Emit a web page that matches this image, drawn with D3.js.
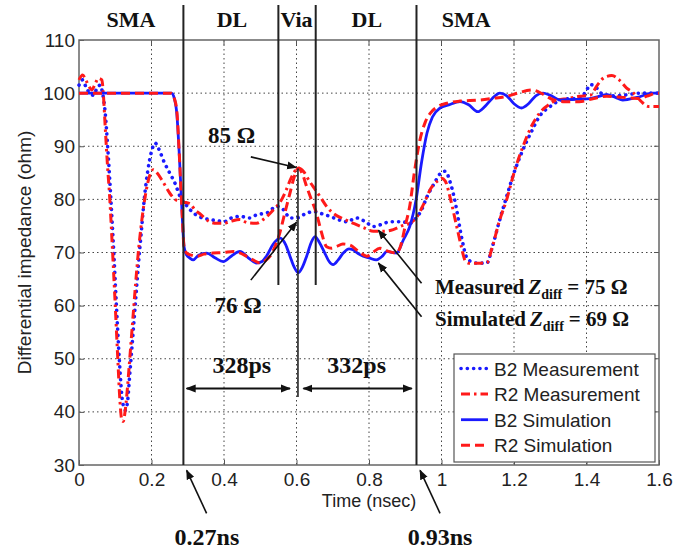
<!DOCTYPE html>
<html>
<head>
<meta charset="utf-8">
<script src="https://cdn.jsdelivr.net/npm/d3@7"></script>
<style>
  html, body { margin: 0; padding: 0; background: #fff; }
  svg { display: block; }
</style>
</head>
<body>
<div id="chart"></div>
<script>
// ---- data (time in ns, differential impedance in ohm) ----
const xTicks = [0, 0.2, 0.4, 0.6, 0.8, 1, 1.2, 1.4, 1.6];
const yTicks = [30, 40, 50, 60, 70, 80, 90, 100, 110];

const b2Measurement = [
    [0, 101.5], [0.01, 102.5], [0.02, 101], [0.03, 100], [0.04, 99.6], [0.05, 101], [0.058, 101.5],
    [0.065, 100], [0.072, 96.5], [0.08, 89], [0.088, 80], [0.096, 70], [0.104, 59], [0.112, 49],
    [0.12, 42], [0.128, 40.3], [0.134, 42], [0.14, 47], [0.147, 53], [0.155, 60], [0.163, 67],
    [0.172, 74], [0.18, 80], [0.19, 85.5], [0.2, 89], [0.21, 90.6], [0.22, 89.5], [0.235, 87],
    [0.25, 85], [0.265, 83], [0.279, 80.5], [0.295, 79], [0.31, 77.8], [0.33, 76.8], [0.36, 76.2],
    [0.38, 76], [0.4, 75.8], [0.42, 76.5], [0.444, 76.8], [0.47, 76.5], [0.49, 77.1], [0.52, 77.5],
    [0.545, 78.7], [0.565, 78], [0.582, 76.5], [0.6, 76.5], [0.625, 77.3], [0.646, 77.7], [0.67, 77.3],
    [0.692, 76.8], [0.715, 76.2], [0.738, 75.8], [0.766, 76.5], [0.79, 75.8], [0.812, 74.9],
    [0.835, 75.3], [0.858, 75.8], [0.89, 75.8], [0.913, 75.5], [0.93, 76.5], [0.945, 78], [0.96, 80.5],
    [0.98, 83], [0.996, 84.8], [1.01, 85.3], [1.025, 83], [1.04, 78.7], [1.055, 73], [1.07, 69],
    [1.085, 68.2], [1.1, 68], [1.125, 68], [1.14, 71], [1.16, 76], [1.18, 80.6], [1.2, 85],
    [1.225, 89.4], [1.25, 93], [1.27, 95.6], [1.3, 97.5], [1.33, 98.7], [1.36, 99], [1.38, 99],
    [1.4, 100.5], [1.41, 101.6], [1.425, 101.2], [1.44, 100], [1.47, 99.5], [1.5, 99.6], [1.55, 100],
    [1.6, 100]
];

const r2Measurement = [
    [0, 102.5], [0.01, 103.4], [0.02, 102.3], [0.03, 101], [0.035, 100.6], [0.045, 101.8],
    [0.053, 102.8], [0.063, 102.5], [0.067, 100], [0.072, 94], [0.078, 87], [0.085, 80], [0.092, 71],
    [0.1, 60], [0.107, 50], [0.113, 42], [0.118, 38.5], [0.122, 38.2], [0.127, 40], [0.133, 44],
    [0.14, 50], [0.148, 57], [0.156, 64], [0.165, 71], [0.175, 77], [0.185, 81.5], [0.195, 84.5],
    [0.205, 85.6], [0.215, 85], [0.23, 83.5], [0.25, 81.2], [0.265, 80], [0.279, 79.6], [0.295, 79.4],
    [0.306, 79.2], [0.32, 78], [0.335, 77.2], [0.36, 75.8], [0.38, 75.5], [0.4, 75.5], [0.42, 75.9],
    [0.444, 76.2], [0.465, 75.6], [0.49, 75.5], [0.51, 76.3], [0.536, 78], [0.555, 79.5], [0.57, 81.5],
    [0.585, 84], [0.605, 85.9], [0.62, 85.2], [0.635, 83.5], [0.65, 82], [0.665, 80.5], [0.685, 78.5],
    [0.701, 77.4], [0.73, 76.3], [0.757, 75.5], [0.785, 74.7], [0.812, 74], [0.84, 74], [0.867, 74.3],
    [0.89, 75], [0.913, 75.5], [0.93, 76.5], [0.95, 79], [0.97, 82], [0.99, 83.5], [1.0, 84],
    [1.01, 83.5], [1.025, 80], [1.04, 75.5], [1.055, 71], [1.065, 68.5], [1.075, 68], [1.1, 68],
    [1.125, 68.1], [1.14, 71], [1.16, 76], [1.18, 80], [1.2, 85], [1.225, 90], [1.25, 94],
    [1.27, 96.2], [1.3, 98], [1.318, 98.7], [1.35, 99], [1.38, 99.4], [1.41, 99.6], [1.43, 101.5],
    [1.45, 103], [1.47, 103.3], [1.49, 102.5], [1.51, 101], [1.53, 100], [1.55, 98.5], [1.57, 97.5],
    [1.583, 97.5], [1.6, 97.5]
];

const b2Simulation = [
    [0, 100], [0.255, 100], [0.263, 99], [0.27, 96], [0.277, 88], [0.284, 78], [0.29, 71],
    [0.297, 69.5], [0.305, 69], [0.315, 68.6], [0.33, 69.5], [0.352, 69.9], [0.375, 69], [0.398, 68.3],
    [0.42, 69.3], [0.444, 70.2], [0.467, 69], [0.49, 68], [0.505, 68.3], [0.517, 69.3], [0.535, 71.5],
    [0.555, 72.7], [0.57, 71.5], [0.582, 69.3], [0.594, 67.2], [0.605, 66.2], [0.616, 67.2],
    [0.628, 69.3], [0.64, 71.8], [0.651, 73], [0.664, 71.8], [0.678, 69.9], [0.69, 68.3],
    [0.701, 67.7], [0.715, 68.6], [0.729, 69.9], [0.745, 70.7], [0.756, 70.5], [0.77, 69.8],
    [0.784, 69.3], [0.8, 69], [0.82, 68.6], [0.835, 69.2], [0.85, 70.2], [0.865, 70], [0.876, 69.9],
    [0.895, 72.4], [0.913, 75], [0.93, 80], [0.945, 87], [0.96, 92.5], [0.975, 95.5], [0.996, 97.2],
    [1.02, 97.8], [1.051, 98.4], [1.075, 97.8], [1.1, 96.5], [1.12, 97.5], [1.14, 99], [1.161, 100],
    [1.18, 99.5], [1.2, 98], [1.221, 97.2], [1.24, 98], [1.26, 99.5], [1.28, 100], [1.3, 99.6],
    [1.327, 98.7], [1.36, 98.8], [1.4, 98.9], [1.43, 99.3], [1.456, 99.7], [1.48, 99.2], [1.5, 98.7],
    [1.54, 99.2], [1.583, 100], [1.6, 100]
];

const r2Simulation = [
    [0, 100], [0.255, 100], [0.263, 99], [0.27, 96.5], [0.277, 88], [0.284, 78], [0.29, 71],
    [0.297, 69.9], [0.31, 69.5], [0.325, 69.3], [0.345, 69.7], [0.37, 69.9], [0.4, 70], [0.425, 70.2],
    [0.445, 69.9], [0.462, 69.3], [0.48, 68.6], [0.5, 68], [0.515, 68.5], [0.527, 69.3], [0.54, 71],
    [0.554, 73.7], [0.568, 77.5], [0.582, 81.2], [0.595, 84.5], [0.605, 85.9], [0.615, 85],
    [0.628, 82.4], [0.642, 79.8], [0.655, 77.4], [0.668, 74], [0.683, 71.1], [0.697, 70.8],
    [0.71, 71.1], [0.728, 71.6], [0.747, 71.4], [0.77, 70.3], [0.794, 69.3], [0.81, 70], [0.83, 70.8],
    [0.85, 70.3], [0.876, 69.9], [0.886, 71], [0.9, 75], [0.913, 79], [0.925, 85], [0.94, 91],
    [0.955, 94.5], [0.97, 96.3], [0.99, 97.5], [1.014, 98.1], [1.05, 98.5], [1.106, 98.7], [1.14, 99],
    [1.18, 99.4], [1.21, 100], [1.25, 100.6], [1.28, 99.8], [1.31, 98.7], [1.34, 98.4], [1.38, 98.4],
    [1.42, 99], [1.456, 99.4], [1.5, 99.2], [1.54, 99], [1.57, 99.5], [1.594, 100], [1.6, 100]
];

const seriesNames = ['B2 Measurement', 'R2 Measurement', 'B2 Simulation', 'R2 Simulation'];
const seriesValues = [b2Measurement, r2Measurement, b2Simulation, r2Simulation];

// section boundaries (ns) and labels
const sectionLabels = ['SMA', 'DL', 'Via', 'DL', 'SMA'];
const sectionLabelTimes = [0.143, 0.422, 0.6, 0.794, 1.068];
const boundaryTimes = [0.288, 0.931];
const viaTimes = [0.550, 0.653];

// ---- styles ----
const W = 693, H = 551;
const PLOT = { left: 79, right: 659, top: 40, bottom: 465 };
const SERIF = '"Liberation Serif", "Times New Roman", serif';
const SANS = '"Liberation Sans", Arial, sans-serif';
const STYLES = [
    { color: '#1a1aff', dash: '0.1,6.2', cap: 'round', width: 3.6 },
    { color: '#ff1a1a', dash: '9,4,2.5,4', cap: 'butt', width: 3 },
    { color: '#1a1aff', dash: null, cap: 'butt', width: 2.8 },
    { color: '#ff1a1a', dash: '9,5', cap: 'butt', width: 3 }
];

const svg = d3.select('#chart').append('svg')
    .attr('width', W).attr('height', H)
    .attr('viewBox', [0, 0, W, H]);

const x = d3.scaleLinear().domain([0, 1.6]).range([PLOT.left, PLOT.right]);
const y = d3.scaleLinear().domain([30, 110]).range([PLOT.bottom, PLOT.top]);

// grid
const grid = svg.append('g')
    .attr('stroke', '#444').attr('stroke-width', 1).attr('stroke-dasharray', '1.5,3');
grid.selectAll('line.gx')
    .data(xTicks.filter(d => d > 0 && d < 1.6))
    .join('line')
    .attr('x1', d => x(d)).attr('x2', d => x(d))
    .attr('y1', PLOT.top).attr('y2', PLOT.bottom);
grid.selectAll('line.gy')
    .data(yTicks.filter(d => d > 30 && d < 110))
    .join('line')
    .attr('x1', PLOT.left).attr('x2', PLOT.right)
    .attr('y1', d => y(d)).attr('y2', d => y(d));

// axes (ticks inside, as in MATLAB)
const xAxis = svg.append('g')
    .attr('transform', `translate(0,${PLOT.bottom})`)
    .call(d3.axisBottom(x).tickValues(xTicks).tickSize(-5).tickPadding(8).tickFormat(d3.format('~g')));
const yAxis = svg.append('g')
    .attr('transform', `translate(${PLOT.left},0)`)
    .call(d3.axisLeft(y).tickValues(yTicks).tickSize(-5).tickPadding(4));
[xAxis, yAxis].forEach(a => {
    a.select('.domain').remove();
    a.selectAll('.tick line').attr('stroke', '#555');
    a.selectAll('.tick text')
        .attr('font-family', SANS).attr('font-size', 19).attr('fill', '#222');
});
// top/right ticks
svg.append('g').selectAll('line')
    .data(xTicks.slice(1, -1)).join('line')
    .attr('x1', d => x(d)).attr('x2', d => x(d))
    .attr('y1', PLOT.top).attr('y2', PLOT.top + 5)
    .attr('stroke', '#555');
svg.append('g').selectAll('line')
    .data(yTicks.slice(1, -1)).join('line')
    .attr('x1', PLOT.right - 5).attr('x2', PLOT.right)
    .attr('y1', d => y(d)).attr('y2', d => y(d))
    .attr('stroke', '#555');

svg.append('rect')
    .attr('x', PLOT.left).attr('y', PLOT.top)
    .attr('width', PLOT.right - PLOT.left).attr('height', PLOT.bottom - PLOT.top)
    .attr('fill', 'none').attr('stroke', '#666').attr('stroke-width', 1.5);

svg.append('text')
    .attr('x', (PLOT.left + PLOT.right) / 2).attr('y', 507)
    .attr('text-anchor', 'middle')
    .attr('font-family', SANS).attr('font-size', 18).attr('fill', '#222')
    .text('Time (nsec)');
svg.append('text')
    .attr('transform', `translate(31,${(PLOT.top + PLOT.bottom) / 2}) rotate(-90)`)
    .attr('text-anchor', 'middle')
    .attr('font-family', SANS).attr('font-size', 19).attr('fill', '#222')
    .text('Differential impedance (ohm)');

// curves
const line = d3.line()
    .x(d => x(d[0])).y(d => y(d[1]))
    .curve(d3.curveMonotoneX);

svg.append('g').selectAll('path')
    .data(seriesValues)
    .join('path')
    .attr('d', line)
    .attr('fill', 'none')
    .attr('stroke', (d, i) => STYLES[i].color)
    .attr('stroke-width', (d, i) => STYLES[i].width)
    .attr('stroke-linecap', (d, i) => STYLES[i].cap)
    .attr('stroke-linejoin', 'round')
    .attr('stroke-dasharray', (d, i) => STYLES[i].dash);

// section boundaries
const bounds = svg.append('g').attr('stroke', '#222').attr('stroke-width', 2);
bounds.selectAll('line.b')
    .data(boundaryTimes).join('line')
    .attr('x1', d => x(d)).attr('x2', d => x(d))
    .attr('y1', 5).attr('y2', PLOT.bottom);
bounds.selectAll('line.v')
    .data(viaTimes).join('line')
    .attr('x1', d => x(d)).attr('x2', d => x(d))
    .attr('y1', 5).attr('y2', y(63.9));
bounds.append('line')
    .attr('x1', x(0.604)).attr('x2', x(0.604))
    .attr('y1', y(85.8)).attr('y2', y(42.8))
    .attr('stroke-width', 1.6);

svg.append('g').selectAll('text')
    .data(sectionLabels).join('text')
    .attr('x', (d, i) => x(sectionLabelTimes[i]))
    .attr('y', 27)
    .attr('text-anchor', 'middle')
    .attr('font-family', SERIF).attr('font-weight', 'bold').attr('font-size', 22)
    .attr('fill', '#111')
    .text(d => d);

// annotations
const defs = svg.append('defs');
defs.append('marker')
    .attr('id', 'head')
    .attr('viewBox', '0 0 10 10')
    .attr('refX', 9).attr('refY', 5)
    .attr('markerWidth', 10).attr('markerHeight', 10)
    .attr('markerUnits', 'userSpaceOnUse')
    .attr('orient', 'auto-start-reverse')
    .append('path').attr('d', 'M0,1 L10,5 L0,9 Z').attr('fill', '#111');

const arrows = [
    { from: [0.474, 88.0], to: [0.599, 86.0] },
    { from: [0.474, 64.8], to: [0.600, 75.7] },
    { from: [0.945, 64.2], to: [0.826, 74.2] },
    { from: [0.945, 57.9], to: [0.826, 68.0] },
    { from: [0.352, 20.9], to: [0.297, 29.0] },
    { from: [0.996, 20.9], to: [0.941, 29.0] }
];
svg.append('g').selectAll('line')
    .data(arrows).join('line')
    .attr('x1', d => x(d.from[0])).attr('y1', d => y(d.from[1]))
    .attr('x2', d => x(d.to[0])).attr('y2', d => y(d.to[1]))
    .attr('stroke', '#111').attr('stroke-width', 1.6)
    .attr('marker-end', 'url(#head)');

// double arrows for the delay spans
const spans = [[0.297, 0.582], [0.619, 0.918]];
svg.append('g').selectAll('line')
    .data(spans).join('line')
    .attr('x1', d => x(d[0])).attr('x2', d => x(d[1]))
    .attr('y1', y(44.4)).attr('y2', y(44.4))
    .attr('stroke', '#111').attr('stroke-width', 1.8)
    .attr('marker-start', 'url(#head)')
    .attr('marker-end', 'url(#head)');

const labels = [
    { text: '85 Ω', t: 0.421, z: 90.6, size: 23 },
    { text: '76 Ω', t: 0.439, z: 58.6, size: 23 },
    { text: '328ps', t: 0.449, z: 47.3, size: 24 },
    { text: '332ps', t: 0.766, z: 47.3, size: 24 },
    { text: '0.27ns', t: 0.353, z: 14.9, size: 24 },
    { text: '0.93ns', t: 0.996, z: 14.9, size: 24 }
];
svg.append('g').selectAll('text')
    .data(labels).join('text')
    .attr('x', d => x(d.t)).attr('y', d => y(d.z))
    .attr('text-anchor', 'middle')
    .attr('font-family', SERIF).attr('font-weight', 'bold')
    .attr('font-size', d => d.size).attr('fill', '#111')
    .text(d => d.text);

const zdiff = [
    { lead: 'Measured', value: '= 75 Ω', z: 62.2 },
    { lead: 'Simulated', value: '= 69 Ω', z: 56.2 }
];
zdiff.forEach(d => {
    const t = svg.append('text')
        .attr('x', x(0.982)).attr('y', y(d.z))
        .attr('font-family', SERIF).attr('font-weight', 'bold')
        .attr('font-size', 21).attr('fill', '#111');
    t.append('tspan').text(d.lead);
    t.append('tspan').attr('dx', 4).attr('font-style', 'italic').text('Z');
    t.append('tspan').attr('dy', 5).attr('font-size', 14).text('diff');
    t.append('tspan').attr('dy', -5).attr('dx', 5).text(d.value);
});

// legend
const legend = svg.append('g');
legend.append('rect')
    .attr('x', 454).attr('y', 354).attr('width', 201).attr('height', 108)
    .attr('fill', '#fff').attr('stroke', '#555').attr('stroke-width', 1.2);
const items = legend.selectAll('g.item')
    .data(seriesNames).join('g')
    .attr('transform', (d, i) => `translate(461,${368.5 + i * 25.6})`);
items.append('line')
    .attr('x1', 0).attr('x2', 27).attr('y1', 0).attr('y2', 0)
    .attr('stroke', (d, i) => STYLES[i].color)
    .attr('stroke-width', (d, i) => STYLES[i].width)
    .attr('stroke-linecap', (d, i) => STYLES[i].cap)
    .attr('stroke-dasharray', (d, i) => STYLES[i].dash);
items.append('text')
    .attr('x', 33).attr('y', 7)
    .attr('font-family', SANS).attr('font-size', 19).attr('fill', '#222')
    .text(d => d);
</script>
</body>
</html>
